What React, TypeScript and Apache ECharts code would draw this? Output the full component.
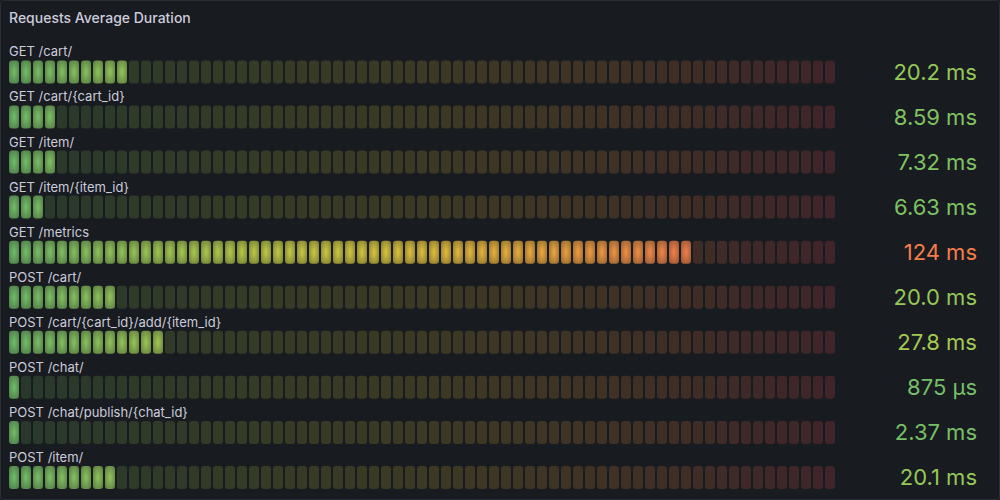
import React, { useEffect, useRef } from "react";
import * as echarts from "echarts";

const panelTitle = "Requests Average Duration";
const endpoints = [
  "GET /cart/",
  "GET /cart/{cart_id}",
  "GET /item/",
  "GET /item/{item_id}",
  "GET /metrics",
  "POST /cart/",
  "POST /cart/{cart_id}/add/{item_id}",
  "POST /chat/",
  "POST /chat/publish/{chat_id}",
  "POST /item/",
];
const durationsMs = [20.2, 8.59, 7.32, 6.63, 124, 20.0, 27.8, 0.875, 2.37, 20.1];
const gaugeMin = 0.5;
const gaugeMax = 151.1;
const cellCount = 69;
const schemeColors = ["#73BF69", "#FADE2A", "#F2495C"];

function hexToRgb(h: string) {
  const n = parseInt(h.slice(1), 16);
  return [(n >> 16) & 255, (n >> 8) & 255, n & 255];
}

function basis(t1: number, v0: number, v1: number, v2: number, v3: number) {
  const t2 = t1 * t1, t3 = t2 * t1;
  return ((1 - 3 * t1 + 3 * t2 - t3) * v0 + (4 - 6 * t2 + 3 * t3) * v1 + (1 + 3 * t1 + 3 * t2 - 3 * t3) * v2 + t3 * v3) / 6;
}

function basisInterp(values: number[], t: number) {
  const n = values.length - 1;
  let i: number;
  if (t <= 0) { t = 0; i = 0; } else if (t >= 1) { t = 1; i = n - 1; } else i = Math.floor(t * n);
  const v1 = values[i], v2 = values[i + 1];
  const v0 = i > 0 ? values[i - 1] : 2 * v1 - v2;
  const v3 = i < n - 1 ? values[i + 2] : 2 * v2 - v1;
  return basis((t - i / n) * n, v0, v1, v2, v3);
}

const rgbs = schemeColors.map(hexToRgb);
function colorAt(v: number, alpha: number) {
  const t = Math.max(0, Math.min(1, (v - gaugeMin) / (gaugeMax - gaugeMin)));
  const c = [0, 1, 2].map((k) => Math.round(Math.max(0, Math.min(255, basisInterp(rgbs.map((r) => r[k]), t)))));
  return `rgba(${c[0]},${c[1]},${c[2]},${alpha})`;
}

function formatDuration(ms: number) {
  if (ms < 1) return `${Math.round(ms * 1000)} µs`;
  if (ms >= 100) return `${ms.toFixed(0)} ms`;
  if (ms >= 10) return `${ms.toFixed(1)} ms`;
  return `${ms.toFixed(2)} ms`;
}

export default function App() {
  const ref = useRef<HTMLDivElement>(null);
  useEffect(() => {
    document.body.style.margin = "0";
    const chart = echarts.init(ref.current!, null, { renderer: "svg" });
    const textColor = "#ccccdc";
    chart.setOption({
      animation: false,
      backgroundColor: "#181b1f",
      grid: { left: 9, width: 828, top: 49.4, height: 452 },
      xAxis: { type: "value", min: gaugeMin, max: gaugeMax, show: false },
      yAxis: { type: "category", data: endpoints, inverse: true, show: false },
      graphic: [
        {
          type: "rect",
          shape: { x: 0.5, y: 0.5, width: 999, height: 499, r: 3 },
          style: { fill: "none", stroke: "#2a2d33", lineWidth: 1 },
          silent: true,
        },
        {
          type: "text",
          x: 9,
          y: 17,
          style: { text: panelTitle, fill: textColor, font: "500 14px Inter", verticalAlign: "middle", align: "left" },
        },
      ],
      series: [
        {
          type: "custom",
          encode: { x: 1, y: 0 },
          data: durationsMs.map((v, i) => [i, v]),
          renderItem: (params: any, api: any) => {
            const row = api.value(0) as number;
            const v = api.value(1) as number;
            const yc = api.coord([gaugeMin, row])[1];
            const step = (gaugeMax - gaugeMin) / cellCount;
            const x0 = api.coord([gaugeMin, row])[0];
            const pitch = api.coord([gaugeMin + step, row])[0] - x0;
            const h = 23;
            const children: any[] = [];
            for (let i = 0; i < cellCount; i++) {
              const pos = gaugeMin + step * i;
              const cx = api.coord([pos, row])[0];
              const lit = pos <= v;
              if (lit) {
                children.push({
                  type: "rect",
                  shape: { x: cx, y: yc - h / 2, width: pitch - 2, height: h, r: 3 },
                  style: {
                    fill: {
                      type: "radial",
                      x: 0.5,
                      y: 0.5,
                      r: 0.707,
                      colorStops: [
                        { offset: 0.1, color: colorAt(pos, 0.95) },
                        { offset: 1, color: colorAt(pos, 0.55) },
                      ],
                    },
                  },
                });
              } else {
                children.push({
                  type: "rect",
                  shape: { x: cx, y: yc - h / 2, width: pitch - 2, height: h, r: 3 },
                  style: { fill: colorAt(pos, 0.18) },
                });
              }
            }
            children.push({
              type: "text",
              x: 9,
              y: yc - 20.5,
              style: { text: endpoints[row], fill: textColor, font: "13px Inter", align: "left", verticalAlign: "middle" },
            });
            children.push({
              type: "text",
              x: 977,
              y: yc,
              style: { text: formatDuration(v), fill: colorAt(v, 1), font: "22px Inter", align: "right", verticalAlign: "middle" },
            });
            return { type: "group", children };
          },
        },
      ],
    });
    return () => chart.dispose();
  }, []);
  return <div ref={ref} style={{ width: 1000, height: 500 }} />;
}
